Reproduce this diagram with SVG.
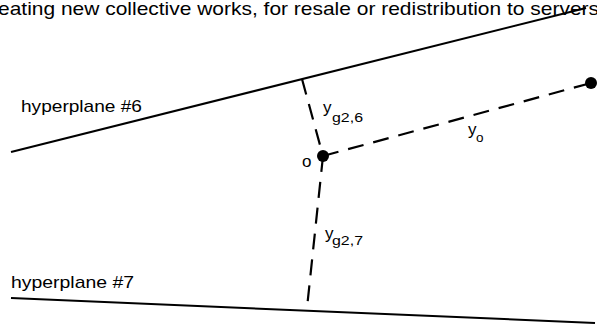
<svg xmlns="http://www.w3.org/2000/svg" width="597" height="328" viewBox="0 0 597 328">
<style>
text{font-family:"Liberation Sans",Arial,sans-serif;fill:#000}
.solid{stroke:#000;stroke-width:2;fill:none}
.dash{stroke:#000;stroke-width:2.2;fill:none;stroke-dasharray:16 10}
.lbl{font-size:17px}
.sub{font-size:13.5px}
</style>
<rect width="597" height="328" fill="#fff"/>
<text x="-2" y="15" font-size="19" textLength="601" lengthAdjust="spacingAndGlyphs">eating new collective works, for resale or redistribution to servers</text>
<g id="connectors">
<line class="solid" x1="11" y1="152" x2="586" y2="8"/>
<line class="solid" x1="11" y1="298" x2="595" y2="323"/>
<line class="dash" x1="302" y1="79" x2="323" y2="156"/>
<line class="dash" x1="323" y1="156" x2="307" y2="308"/>
<line class="dash" x1="323" y1="156" x2="591" y2="83"/>
</g>
<g id="hyperplane6"><text class="lbl" x="21" y="112" textLength="121" lengthAdjust="spacingAndGlyphs">hyperplane #6</text></g>
<g id="hyperplane7"><text class="lbl" x="11" y="288" textLength="123" lengthAdjust="spacingAndGlyphs">hyperplane #7</text></g>
<g id="point-o">
<circle cx="323" cy="156" r="6"/>
<text class="lbl" x="302" y="167">o</text>
</g>
<g id="point-right"><circle cx="591" cy="83" r="6"/></g>
<g id="label-yg26"><text class="lbl" x="323" y="113">y</text><text class="sub" x="332" y="122" textLength="31" lengthAdjust="spacingAndGlyphs">g2,6</text></g>
<g id="label-yg27"><text class="lbl" x="325" y="239">y</text><text class="sub" x="332" y="245" textLength="31" lengthAdjust="spacingAndGlyphs">g2,7</text></g>
<g id="label-yo"><text class="lbl" x="468" y="135">y</text><text class="sub" x="476" y="142">o</text></g>
</svg>
